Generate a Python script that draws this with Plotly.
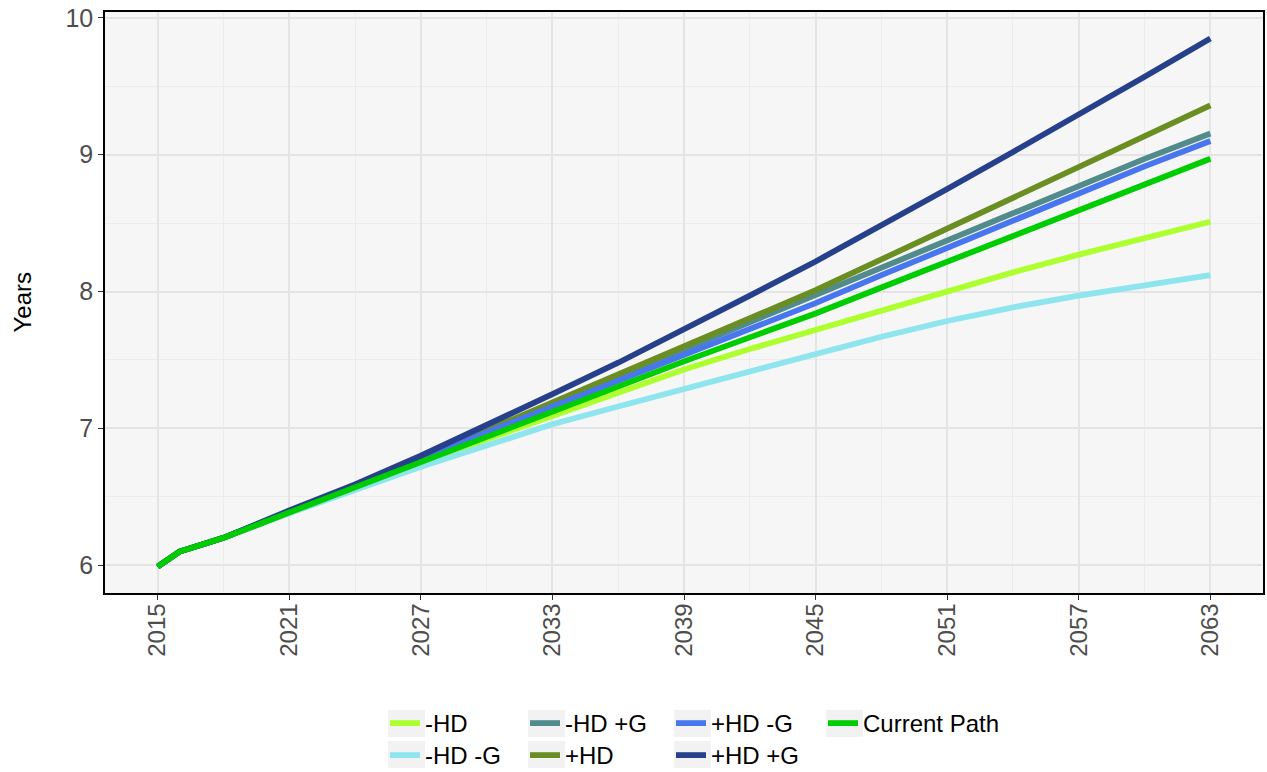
import plotly.graph_objects as go

years = [2015, 2016, 2017, 2018, 2021, 2024, 2027, 2030, 2033, 2036,
         2039, 2042, 2045, 2048, 2051, 2054, 2057, 2060, 2063]

minus_hd = [5.99, 6.10, 6.15, 6.20, 6.385, 6.565, 6.75, 6.92, 7.09, 7.26,
            7.43, 7.58, 7.72, 7.865, 8.00, 8.14, 8.27, 8.395, 8.51]
minus_hd_minus_g = [5.99, 6.10, 6.15, 6.20, 6.38, 6.55, 6.72, 6.875, 7.03, 7.16,
                    7.29, 7.42, 7.55, 7.67, 7.785, 7.885, 7.97, 8.05, 8.12]
minus_hd_plus_g = [5.99, 6.10, 6.15, 6.20, 6.39, 6.58, 6.775, 6.98, 7.18, 7.375,
                   7.57, 7.775, 7.98, 8.18, 8.38, 8.58, 8.78, 8.97, 9.155]
plus_hd = [5.99, 6.10, 6.15, 6.20, 6.39, 6.58, 6.78, 6.985, 7.19, 7.39,
           7.59, 7.80, 8.01, 8.235, 8.46, 8.69, 8.92, 9.14, 9.36]
plus_hd_minus_g = [5.99, 6.10, 6.15, 6.20, 6.39, 6.575, 6.77, 6.97, 7.16, 7.35,
                   7.545, 7.73, 7.915, 8.12, 8.32, 8.525, 8.725, 8.915, 9.10]
plus_hd_plus_g = [5.99, 6.10, 6.15, 6.20, 6.40, 6.59, 6.80, 7.02, 7.25, 7.48,
                  7.72, 7.97, 8.22, 8.48, 8.75, 9.02, 9.29, 9.57, 9.85]
current_path = [5.99, 6.10, 6.15, 6.20, 6.385, 6.57, 6.76, 6.94, 7.12, 7.305,
                7.49, 7.665, 7.84, 8.03, 8.22, 8.41, 8.60, 8.785, 8.97]

x_ticks = [2015, 2021, 2027, 2033, 2039, 2045, 2051, 2057, 2063]
y_ticks = [6, 7, 8, 9, 10]

# (name, values, colour, legend column, legend row)
series = [
    ("-HD", minus_hd, "#ADFF2F", 0, 0),
    ("-HD -G", minus_hd_minus_g, "#8EE5EE", 0, 1),
    ("-HD +G", minus_hd_plus_g, "#528B8B", 1, 0),
    ("+HD", plus_hd, "#6B8E23", 1, 1),
    ("+HD -G", plus_hd_minus_g, "#4876EE", 2, 0),
    ("+HD +G", plus_hd_plus_g, "#27408B", 2, 1),
    ("Current Path", current_path, "#00CD00", 3, 0),
]

FONT = "Liberation Sans, Arial, sans-serif"

W, H = 1267, 772
ML, MR, MT, MB = 105, 4, 12, 179
PW, PH = W - ML - MR, H - MT - MB

# legend layout (pixels in the figure)
COL_LEFT = [385, 525, 671, 823]
ROW_TOP = [701, 733]
KEY_TOP = [710, 741]


def cx(p):
    return p / W


def cy(p):
    return 1 - p / H


fig = go.Figure()
layout_legends = {}
shapes = []
for i, (name, vals, color, col, row) in enumerate(series):
    lg_id = "legend" if i == 0 else f"legend{i + 1}"
    fig.add_trace(go.Scatter(
        x=years, y=vals, mode="lines", name=name,
        line=dict(color=color, width=5.8),
        legend=lg_id,
    ))
    layout_legends[lg_id] = dict(
        xref="container", yref="container",
        x=cx(COL_LEFT[col]), y=cy(ROW_TOP[row]),
        xanchor="left", yanchor="top", orientation="h",
        font=dict(family=FONT, size=24, color="#000000"),
        bgcolor="rgba(0,0,0,0)", itemwidth=30,
    )
    shapes.append(dict(
        type="rect", xref="paper", yref="paper",
        x0=(COL_LEFT[col] + 3 - ML) / PW, x1=(COL_LEFT[col] + 40 - ML) / PW,
        y0=(H - MB - (KEY_TOP[row] + 27)) / PH, y1=(H - MB - KEY_TOP[row]) / PH,
        fillcolor="#F2F2F2", line=dict(width=0), layer="below",
    ))

fig.update_layout(
    width=W, height=H,
    margin=dict(l=ML, r=MR, t=MT, b=MB, autoexpand=False),
    paper_bgcolor="white",
    plot_bgcolor="#F6F6F6",
    font=dict(family=FONT, color="#000000"),
    showlegend=True,
    shapes=shapes,
    xaxis=dict(
        range=[2012.6, 2065.4], automargin=False,
        tickvals=x_ticks, ticktext=[str(t) for t in x_ticks],
        tickangle=-90, ticklabelstandoff=-6,
        tickfont=dict(family=FONT, size=24, color="#4D4D4D"),
        ticks="outside", ticklen=5, tickcolor="#333333", tickwidth=1,
        showline=True, linecolor="#000000", linewidth=1.5, mirror=True,
        showgrid=True, gridcolor="#E4E4E4", gridwidth=1.5,
        minor=dict(tickvals=[2018, 2024, 2030, 2036, 2042, 2048, 2054, 2060],
                   showgrid=True, gridcolor="#ECECEC", gridwidth=0.8, ticks=""),
        zeroline=False,
    ),
    yaxis=dict(
        range=[5.797, 10.043], automargin=False,
        tickvals=y_ticks, ticktext=[str(t) for t in y_ticks],
        tickfont=dict(family=FONT, size=25, color="#4D4D4D"),
        ticks="outside", ticklen=5, tickcolor="#333333", tickwidth=1,
        showline=True, linecolor="#000000", linewidth=1.5, mirror=True,
        showgrid=True, gridcolor="#E4E4E4", gridwidth=1.5,
        minor=dict(tickvals=[6.5, 7.5, 8.5, 9.5],
                   showgrid=True, gridcolor="#ECECEC", gridwidth=0.8, ticks=""),
        zeroline=False,
    ),
    annotations=[dict(
        text="Years", xref="paper", yref="paper",
        x=(22 - ML) / PW, y=0.5, xanchor="center", yanchor="middle",
        textangle=-90, showarrow=False,
        font=dict(family=FONT, size=24, color="#000000"),
    )],
    **layout_legends,
)

fig.write_html(
    "out.html",
    config={"displayModeBar": False},
    post_script="document.body.style.margin='0';document.body.style.overflow='hidden';",
)
